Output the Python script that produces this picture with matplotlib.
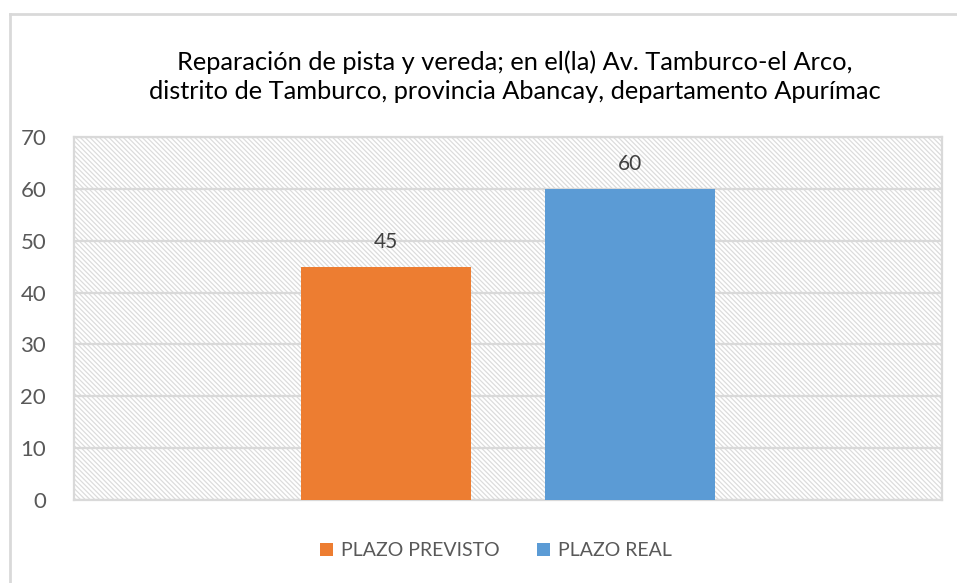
import matplotlib.pyplot as plt
from matplotlib.patches import Rectangle
from matplotlib.lines import Line2D

# Data
series = ['PLAZO PREVISTO', 'PLAZO REAL']
values = [45, 60]
colors = ['#ed7d31', '#5b9bd5']
yticks = [0, 10, 20, 30, 40, 50, 60, 70]
title = ('Reparación de pista y vereda; en el(la) Av. Tamburco-el Arco,\n'
         'distrito de Tamburco, provincia Abancay, departamento Apurímac')

plt.rcParams['font.family'] = ['Lato', 'DejaVu Sans']
plt.rcParams['hatch.linewidth'] = 0.9
plt.rcParams['hatch.color'] = '#dcdcdc'

fig = plt.figure(figsize=(9.57, 5.83), dpi=100)
ax = fig.add_axes([0.0773, 0.1424, 0.9067, 0.6226])

# hatched plot background
ax.set_facecolor('white')
ax.add_patch(Rectangle((0, 0), 1, 1, transform=ax.transAxes, facecolor='white',
                       edgecolor='#dcdcdc', hatch='\\' * 7, linewidth=0, zorder=0))

width = 0.196
gap = 0.085
offsets = [-(width + gap) / 2, (width + gap) / 2]
for name, val, col, off in zip(series, values, colors, offsets):
    ax.bar(0.5 + off, val, width=width, color=col, label=name, zorder=3)
    ax.text(0.5 + off, val + 2.9, str(val), ha='center', va='bottom',
            fontsize=15, color='#404040', zorder=4)

ax.set_xlim(0, 1)
ax.set_ylim(0, 70)
ax.set_yticks(yticks)
ax.set_xticks([])
ax.tick_params(axis='y', length=0, labelsize=16, labelcolor='#595959', pad=20)
ax.yaxis.grid(True, color='#d9d9d9', linewidth=1.6, zorder=1)
ax.set_axisbelow(True)
for s in ax.spines.values():
    s.set_color('#d9d9d9')
    s.set_linewidth(1.6)

fig.text(0.538, 0.868, title, ha='center', va='center', fontsize=18.3,
         color='#000000', linespacing=1.3)

handles = [Rectangle((0, 0), 1, 1, facecolor=c) for c in colors]
fig.legend(handles, series, loc='center', bbox_to_anchor=(0.518, 0.055), ncol=2,
           frameon=False, fontsize=14, handlelength=0.7, handleheight=0.7,
           handletextpad=0.4, columnspacing=1.9, labelcolor='#595959')

# outer chart border
fig.add_artist(Line2D([10 / 957, 10 / 957], [0, 1 - 14 / 583], transform=fig.transFigure,
                      color='#d9d9d9', linewidth=2))
fig.add_artist(Line2D([10 / 957, 1], [1 - 14 / 583, 1 - 14 / 583], transform=fig.transFigure,
                      color='#d9d9d9', linewidth=2))

fig.savefig('out.png', dpi=100)
